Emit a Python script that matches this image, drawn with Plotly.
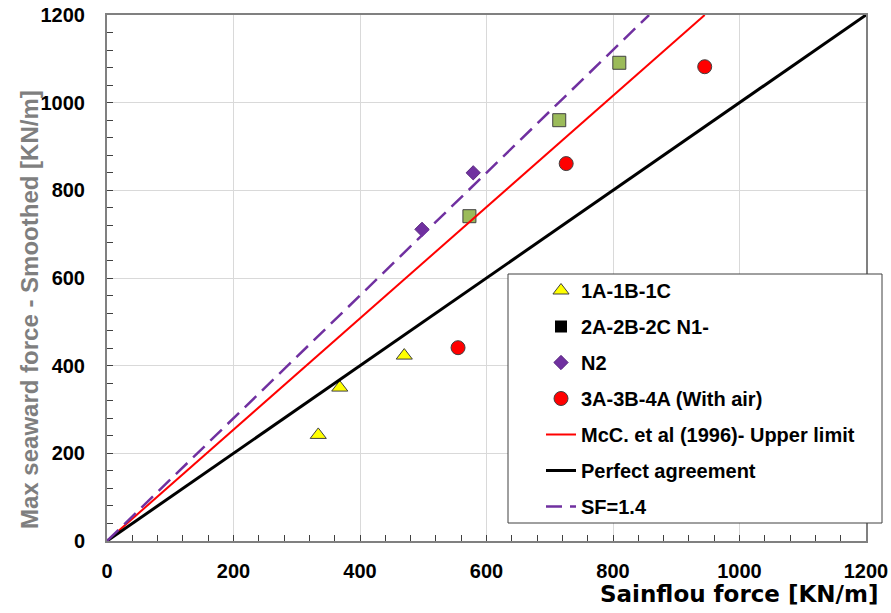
import plotly.graph_objects as go

# ---- data ----
g1_x = [334, 368, 470]          # 1A-1B-1C
g1_y = [242, 350, 423]
g2_x = [573, 715, 810]          # 2A-2B-2C N1-
g2_y = [741, 960, 1091]
n2_x = [498, 579]               # N2
n2_y = [711, 840]
g3_x = [555, 726, 945]          # 3A-3B-4A (With air)
g3_y = [441, 861, 1082]
mcc_x = [0, 945]                # McC. et al (1996) - upper limit
mcc_y = [0, 1200]
perf_x = [0, 1200]              # Perfect agreement
perf_y = [0, 1200]
sf_x = [0, 857]                 # SF = 1.4
sf_y = [0, 1200]

FONT = "Liberation Sans, Arial, sans-serif"
WIDE = "DejaVu Sans, Liberation Sans, sans-serif"
EDGE = dict(color="#404040", width=1)

fig = go.Figure()

fig.add_trace(go.Scatter(x=g1_x, y=g1_y, mode="markers", name="1A-1B-1C",
                         legendgroup="a",
                         marker=dict(symbol="triangle-up", size=14, color="#FFFF00", line=EDGE)))
fig.add_trace(go.Scatter(x=g2_x, y=g2_y, mode="markers", name="2A-2B-2C N1-",
                         legendgroup="b", showlegend=False,
                         marker=dict(symbol="square", size=13, color="#9BBB59", line=EDGE)))
fig.add_trace(go.Scatter(x=[None], y=[None], mode="markers", name="2A-2B-2C N1-",
                         legendgroup="b",
                         marker=dict(symbol="square", size=12, color="#000000")))
fig.add_trace(go.Scatter(x=n2_x, y=n2_y, mode="markers", name="N2",
                         legendgroup="c",
                         marker=dict(symbol="diamond", size=11, color="#7030A0", line=dict(color="#5a2a80", width=1))))
fig.add_trace(go.Scatter(x=g3_x, y=g3_y, mode="markers", name="3A-3B-4A (With air)",
                         legendgroup="d",
                         marker=dict(symbol="circle", size=14, color="#FF0000", line=EDGE)))
fig.add_trace(go.Scatter(x=mcc_x, y=mcc_y, mode="lines", name="McC. et al (1996)- Upper limit",
                         legendgroup="e",
                         line=dict(color="#FF0000", width=2)))
fig.add_trace(go.Scatter(x=perf_x, y=perf_y, mode="lines", name="Perfect agreement",
                         legendgroup="f",
                         line=dict(color="#000000", width=3)))
fig.add_trace(go.Scatter(x=sf_x, y=sf_y, mode="lines", name="SF=1.4",
                         legendgroup="g",
                         line=dict(color="#7030A0", width=2.5, dash="16px,8px")))

axis_common = dict(
    range=[0, 1200], dtick=200, tick0=0,
    showgrid=True, gridcolor="#D9D9D9", gridwidth=1,
    showline=True, linecolor="#808080", linewidth=2, mirror=True,
    ticks="inside", ticklen=6, tickcolor="#404040", tickwidth=1,
    minor=dict(dtick=40, ticks="inside", ticklen=6, tickcolor="#404040", showgrid=False),
    tickfont=dict(family=FONT, size=20, color="#000000", weight="bold"),
    zeroline=False, fixedrange=True, automargin=False,
)

fig.update_xaxes(**axis_common, ticklabelstandoff=11)
fig.update_yaxes(**axis_common, ticklabelstandoff=16)

# legend frame
fig.add_shape(type="rect", xref="paper", yref="paper",
              x0=(508 - 107) / 759, x1=(882 - 107) / 759,
              y0=(541 - 523) / 526, y1=(541 - 274) / 526,
              line=dict(color="#404040", width=1), fillcolor="white", layer="above")

fig.add_annotation(text="Sainflou force [KN/m]", xref="paper", yref="paper",
                   x=(880 - 107) / 759, y=(541 - 594) / 526, xanchor="right", yanchor="middle",
                   showarrow=False,
                   font=dict(family=WIDE, size=23, color="#000000", weight="bold"))
fig.add_annotation(text="Max seaward force - Smoothed [KN/m]", xref="paper", yref="paper",
                   x=(29 - 107) / 759, y=(541 - 310) / 526, xanchor="center", yanchor="middle",
                   textangle=-90, showarrow=False,
                   font=dict(family=FONT, size=24, color="#7F7F7F", weight="bold"))

fig.update_layout(
    width=891, height=613,
    margin=dict(l=107, r=25, t=15, b=72, autoexpand=False),
    plot_bgcolor="white", paper_bgcolor="white",
    showlegend=True,
    legend=dict(x=(541 - 107) / 759, y=(541 - 271) / 526, xanchor="left", yanchor="top",
                bgcolor="rgba(0,0,0,0)", borderwidth=0,
                traceorder="grouped", tracegroupgap=7,
                font=dict(family=FONT, size=20, color="#000000", weight="bold")),
)

fig.write_html("out.html")
